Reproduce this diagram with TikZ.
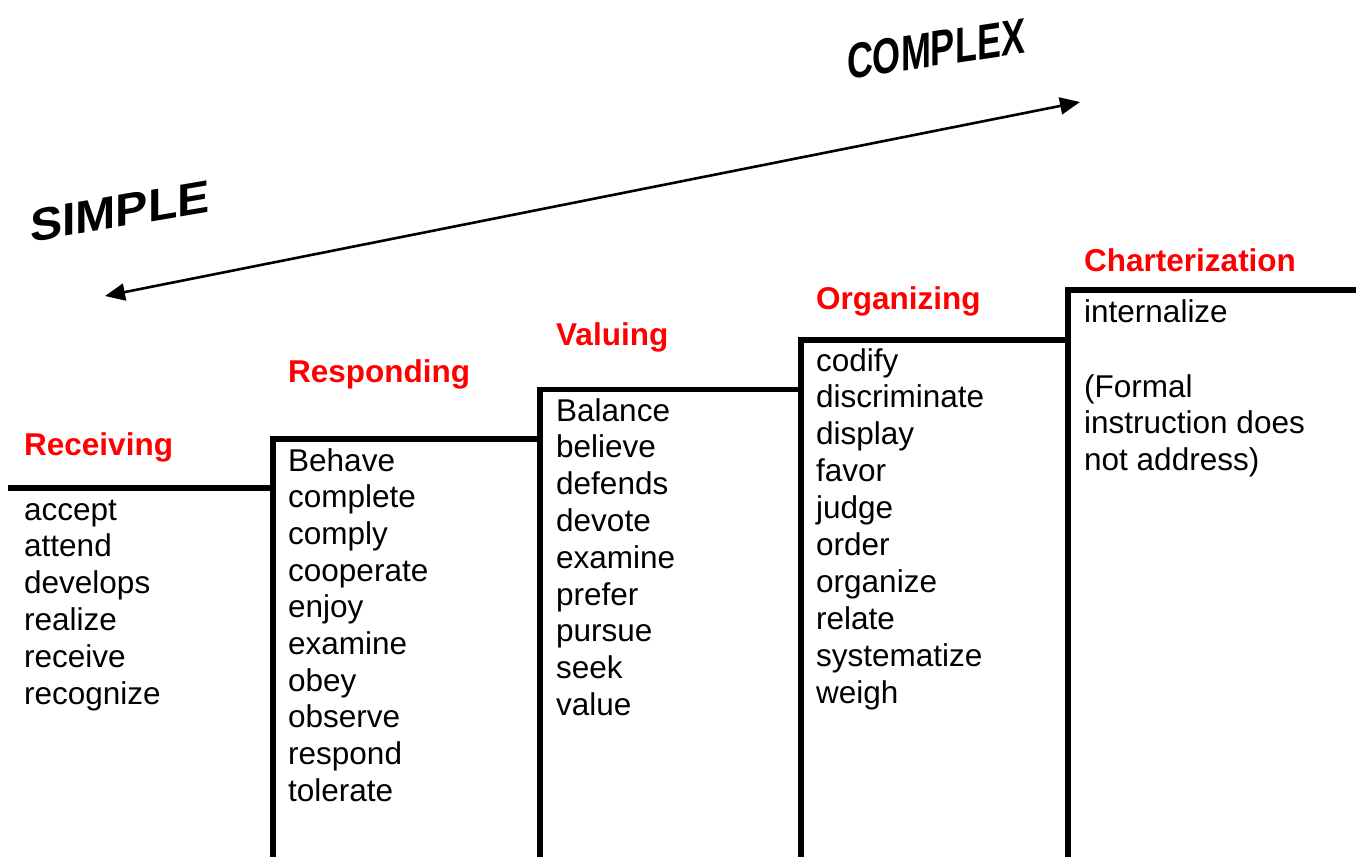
\documentclass[tikz,border=0pt]{standalone}
\usepackage{fontspec}
\setmainfont{Liberation Sans}
\usetikzlibrary{arrows.meta}
\begin{document}
\begin{tikzpicture}[x=1pt,y=-1pt,
  stair/.style={line width=5.5pt, line join=miter},
  word/.style={anchor=base west, inner sep=0pt, font=\fontsize{31.5}{36.8}\selectfont},
  head/.style={anchor=base west, inner sep=0pt, font=\fontsize{31.5}{36.8}\selectfont\bfseries, text=red},
  big/.style={inner sep=0pt, transform shape, font=\fontsize{46}{52}\selectfont\bfseries},
  bigger/.style={inner sep=0pt, transform shape, font=\fontsize{50}{56}\selectfont\bfseries},
  span/.style={line width=2.6pt, {Triangle[length=20pt,width=17pt]}-{Triangle[length=20pt,width=17pt]}}]
\useasboundingbox (0,0) rectangle (1356,857);

% stairs
\draw[stair] (8,488) -- (273,488);
\draw[stair] (273,857) -- (273,439) -- (540,439);
\draw[stair] (540,857) -- (540,389.5) -- (801,389.5);
\draw[stair] (801,857) -- (801,340) -- (1068,340);
\draw[stair] (1068,857) -- (1068,290) -- (1356,290);

% headings
\node[head] (receiving) at (24,455) {Receiving};
\node[head] (responding) at (288,382) {Responding};
\node[head] (valuing) at (556,345) {Valuing};
\node[head] (organizing) at (816,309) {Organizing};
\node[head] (charterization) at (1084,271) {Charterization};

% word lists
\foreach \w [count=\i from 0] in {accept,attend,develops,realize,receive,recognize}
  \node[word] (rec\i) at (24,{520+36.8*\i}) {\w};
\foreach \w [count=\i from 0] in {Behave,complete,comply,cooperate,enjoy,examine,obey,observe,respond,tolerate}
  \node[word] (res\i) at (288,{471+36.7*\i}) {\w};
\foreach \w [count=\i from 0] in {Balance,believe,defends,devote,examine,prefer,pursue,seek,value}
  \node[word] (val\i) at (556,{421+36.8*\i}) {\w};
\foreach \w [count=\i from 0] in {codify,discriminate,display,favor,judge,order,organize,relate,systematize,weigh}
  \node[word] (org\i) at (816,{371+36.9*\i}) {\w};
\node[word] (cha0) at (1084,322) {internalize};
\node[word] (cha1) at (1084,397) {(Formal};
\node[word] (cha2) at (1084,433) {instruction does};
\node[word] (cha3) at (1084,470) {not address)};

% arrow
\coordinate (simpleTip) at (105,296);
\coordinate (complexTip) at (1080,102);
\draw[span] (simpleTip) -- (complexTip);

% SIMPLE / COMPLEX
\begin{scope}[shift={(120,211)}, yslant=0.17, xscale=1.05]
  \node[big] (simple) at (0,0) {SIMPLE};
\end{scope}
\begin{scope}[shift={(936,49)}, yslant=0.15, xscale=0.72]
  \node[bigger] (complex) at (0,0) {COMPLEX};
\end{scope}
\end{tikzpicture}
\end{document}
